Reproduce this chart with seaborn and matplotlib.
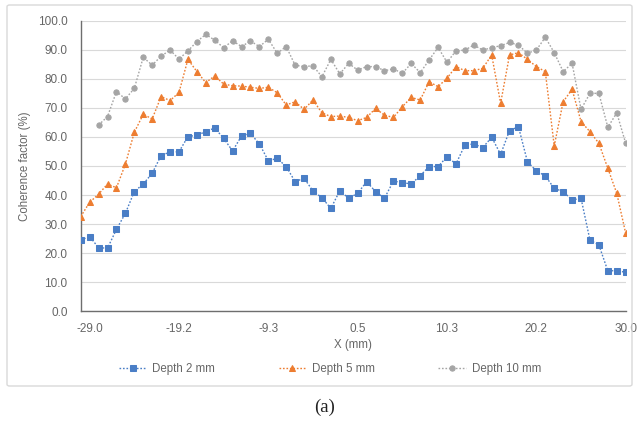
import numpy as np
import pandas as pd
import matplotlib
matplotlib.use("Agg")
import matplotlib.pyplot as plt
import seaborn as sns
from matplotlib.patches import FancyBboxPatch

# ---- data ----
x_mm = np.linspace(-30.0, 30.0, 62)

depth2 = [24.5, 25.7, 21.9, 21.7, 28.2, 33.7, 41.2, 43.8, 47.5, 53.6,
          54.8, 54.9, 60.1, 60.6, 61.8, 63.1, 59.5, 55.2, 60.3, 61.2,
          57.6, 51.8, 52.6, 49.8, 44.6, 45.8, 41.4, 39.1, 35.4, 41.5,
          38.9, 40.6, 44.6, 41.2, 38.9, 44.8, 44.3, 43.8, 46.7, 49.8,
          49.8, 53.2, 50.7, 57.2, 57.6, 56.3, 59.9, 54.0, 62.2, 63.5,
          51.5, 48.3, 46.6, 42.3, 41.2, 38.3, 38.9, 24.5, 22.8, 13.9,
          14.0, 13.4]

depth5 = [32.6, 37.5, 40.3, 43.8, 42.5, 50.6, 61.6, 67.8, 66.2, 73.9,
          72.5, 75.3, 86.7, 82.5, 78.7, 81.0, 78.2, 77.6, 77.5, 77.1,
          76.7, 77.1, 75.2, 71.0, 72.1, 69.5, 72.7, 68.3, 67.0, 67.2,
          66.7, 65.6, 66.7, 69.8, 67.5, 66.7, 70.4, 73.6, 72.7, 79.0,
          77.3, 80.2, 84.2, 82.8, 82.8, 83.6, 88.2, 71.6, 88.2, 89.0,
          86.7, 84.2, 82.5, 56.9, 72.1, 76.4, 65.3, 61.8, 57.8, 49.2,
          40.6, 26.8]

depth10 = [np.nan, np.nan, 64.1, 67.0, 75.6, 73.1, 76.7, 87.4, 84.7, 87.8,
           89.9, 86.8, 89.6, 92.8, 95.3, 93.3, 90.7, 93.1, 91.1, 93.0,
           91.1, 93.6, 88.8, 91.1, 84.7, 84.2, 84.5, 80.7, 86.7, 81.7,
           85.3, 83.0, 84.2, 84.2, 82.8, 83.4, 81.9, 85.3, 82.1, 86.5,
           90.8, 85.7, 89.6, 89.9, 91.6, 89.9, 90.7, 91.4, 92.5, 91.6,
           88.8, 89.9, 94.3, 89.0, 82.5, 85.3, 69.5, 75.0, 75.0, 63.3,
           68.3, 57.8]

series_names = ["Depth 2 mm", "Depth 5 mm", "Depth 10 mm"]
tick_idx = list(range(1, 62, 10))
tick_labels = [f"{x_mm[i]:.1f}" for i in tick_idx]

# ---- style ----
sns.set_theme(style="white")
plt.rcParams["font.family"] = ["Liberation Sans", "DejaVu Sans"]
TXT = "#666666"
colors = ["#4A7EC6", "#ED7D31", "#A5A5A5"]
markers = ["s", "^", "o"]
msizes = [4.5, 4.5, 3.8]

fig = plt.figure(figsize=(6.4, 4.21), dpi=100)
ax = fig.add_axes([80.7 / 640, 1 - 311.3 / 421, (625.7 - 80.7) / 640, (311.3 - 20.7) / 421])

# chart border
fig.patches.append(FancyBboxPatch((7 / 640, 1 - 386 / 421), 625 / 640, 381 / 421,
                                  boxstyle="round,pad=0,rounding_size=0.004",
                                  transform=fig.transFigure, facecolor="none",
                                  edgecolor="#D9D9D9", linewidth=1.0, zorder=0))

df = pd.DataFrame({"x": x_mm, series_names[0]: depth2,
                   series_names[1]: depth5, series_names[2]: depth10})
for name, c, m, ms in zip(series_names, colors, markers, msizes):
    sub = df[["x", name]].dropna()
    sns.lineplot(data=sub, x="x", y=name, ax=ax, color=c, marker=m,
                 markersize=ms, markeredgecolor=c, linewidth=1.0,
                 linestyle=(0, (1.2, 1.3)), label=name, zorder=3)

ax.set_xlim(-30, 30)
ax.set_ylim(0, 100)
ax.set_yticks(np.arange(0, 101, 10))
ax.set_yticklabels([f"{v:.1f}" for v in np.arange(0, 101, 10)])
ax.set_xticks(x_mm[tick_idx])
ax.set_xticklabels(tick_labels)
ax.grid(axis="y", color="#D9D9D9", linewidth=0.8, zorder=0)
ax.grid(axis="x", visible=False)
for s in ["top", "right"]:
    ax.spines[s].set_visible(False)
for s in ["left", "bottom"]:
    ax.spines[s].set_color("#6E6E6E")
    ax.spines[s].set_linewidth(1.0)
ax.tick_params(axis="both", direction="inout", length=5, width=1.0,
               color="#6E6E6E", labelcolor=TXT, labelsize=8.5)
ax.tick_params(axis="y", pad=7)
ax.tick_params(axis="x", pad=6)
ax.set_xlabel("X (mm)", color=TXT, fontsize=8.3, labelpad=3)
ax.set_ylabel("Coherence factor (%)", color=TXT, fontsize=8.3, labelpad=5)

leg = ax.legend(loc="center", bbox_to_anchor=(330 / 640, 1 - 369 / 421),
                bbox_transform=fig.transFigure, ncol=3, frameon=False,
                fontsize=8.3, handlelength=2.4, columnspacing=5.5,
                handletextpad=0.5)
for t in leg.get_texts():
    t.set_color(TXT)

fig.text(325 / 640, 1 - 407 / 421, "(a)", ha="center", va="center",
         fontsize=13.5, family=["Liberation Serif", "DejaVu Serif"], color="#222222")

fig.savefig("out.png", dpi=100)
